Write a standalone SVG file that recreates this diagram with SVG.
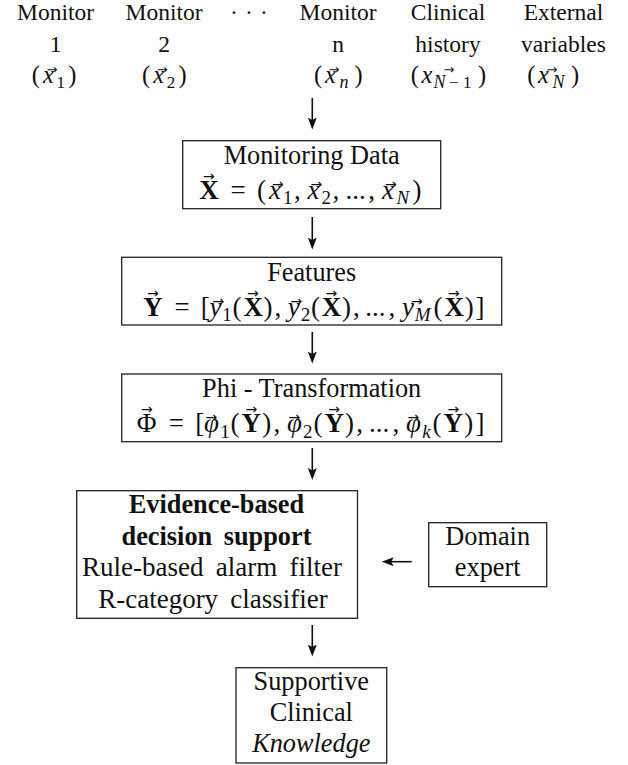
<svg xmlns="http://www.w3.org/2000/svg" width="628" height="765" viewBox="0 0 628 765">
<style>
text{font-family:"Liberation Serif","Times New Roman",serif;fill:#111}
.h{font-size:23.5px;text-anchor:middle}
.hm{font-size:24.5px}
.hs{font-size:17px}
.hl{font-size:18px;font-style:italic}
.b{font-size:26.3px;text-anchor:middle}
.r{font-size:27px;text-anchor:middle;word-spacing:5.5px}
.ws{word-spacing:5px}
.m{font-size:27px}
.s{font-size:19px}
.i{font-style:italic}
.bf{font-weight:bold}
.v{font-family:"DejaVu Sans",sans-serif;font-size:14px;font-style:normal;font-weight:normal}
.hv{font-family:"DejaVu Sans",sans-serif;font-size:13px}
.box{fill:#fff;stroke:#222;stroke-width:1.3}
.con{stroke:#111;stroke-width:1.6;fill:none}
</style>
<defs>
<marker id="ah" viewBox="0 0 12 9" refX="6" refY="4.5" markerWidth="12" markerHeight="9" orient="auto" markerUnits="userSpaceOnUse">
<path d="M0,0 L12,4.5 L0,9 L2.5,4.5 z" fill="#111"/>
</marker>
</defs>

<g id="header">
<text class="h" x="55.5" y="19.5">Monitor</text>
<text class="h" x="55.5" y="51.5">1</text>
<text class="hm" y="83"><tspan x="31.7">(</tspan><tspan x="43" class="i">x</tspan><tspan x="56.5" y="87.5" class="hs">1</tspan><tspan x="68.3" y="83">)</tspan><tspan class="hv" x="46.55" y="73.7">→</tspan></text>

<text class="h" x="164" y="19.5">Monitor</text>
<text class="h" x="164" y="51.5">2</text>
<text class="hm" y="83"><tspan x="142">(</tspan><tspan x="153.3" class="i">x</tspan><tspan x="166.8" y="87.5" class="hs">2</tspan><tspan x="178.6" y="83">)</tspan><tspan class="hv" x="156.85" y="73.7">→</tspan></text>

<text class="h" y="19.5"><tspan x="234">·</tspan><tspan x="249">·</tspan><tspan x="264">·</tspan></text>

<text class="h" x="338" y="19.5">Monitor</text>
<text class="h" x="338" y="51.5">n</text>
<text class="hm" y="83"><tspan x="314">(</tspan><tspan x="325" class="i">x</tspan><tspan x="339.5" y="87.5" class="hl">n</tspan><tspan x="354.5" y="83">)</tspan><tspan class="hv" x="328.55" y="73.7">→</tspan></text>

<text class="h" x="448" y="19.5">Clinical</text>
<text class="h" x="448" y="51.5">history</text>
<text class="hm" y="83"><tspan x="410.7">(</tspan><tspan x="421.5" class="i">x</tspan><tspan x="433.5" y="87.5" class="hl">N</tspan><tspan x="449" class="hs">−</tspan><tspan x="463" class="hs">1</tspan><tspan x="478" y="83">)</tspan><tspan class="hv" x="443.55" y="73.7">→</tspan></text>

<text class="h" x="563.5" y="19.5">External</text>
<text class="h" x="563.5" y="51.5">variables</text>
<text class="hm" y="83"><tspan x="527.3">(</tspan><tspan x="538" class="i">x</tspan><tspan x="552.5" y="87.5" class="hl">N</tspan><tspan x="571" y="83">)</tspan><tspan class="hv" x="546.55" y="73.7">→</tspan></text>
</g>

<g id="monitoring-data">
<rect class="box" x="182.7" y="140.7" width="258" height="68"/>
<text class="b" x="311.7" y="163.5">Monitoring Data</text>
<text class="m" y="198.5"><tspan x="199.3" class="bf">X</tspan><tspan x="230.6">=</tspan><tspan x="256.9">(</tspan><tspan x="269" class="i">x</tspan><tspan x="283" y="204" class="s">1</tspan><tspan x="294" y="198.5">,</tspan><tspan x="307.5" class="i">x</tspan><tspan x="321.5" y="204" class="s">2</tspan><tspan x="332.6" y="198.5">,</tspan><tspan x="345.5">...</tspan><tspan x="368.3">,</tspan><tspan x="382" class="i">x</tspan><tspan x="396.5" y="204" class="s i">N</tspan><tspan x="412.4" y="198.5">)</tspan><tspan class="v" x="203.1" y="180.5">→</tspan><tspan class="v" x="272.1" y="188.5">→</tspan><tspan class="v" x="310.6" y="188.5">→</tspan><tspan class="v" x="385.1" y="188.5">→</tspan></text>
</g>

<g id="features">
<rect class="box" x="121.7" y="257.3" width="380" height="67.7"/>
<text class="b" x="311.7" y="280.5">Features</text>
<text class="m" y="315.5"><tspan x="143.3" class="bf">Y</tspan><tspan x="174.6">=</tspan><tspan x="200.8">[</tspan><tspan x="209.5" class="i">y</tspan><tspan x="222.3" y="321" class="s">1</tspan><tspan x="232.5" y="315.5">(</tspan><tspan x="243.4" class="bf">X</tspan><tspan x="263.6">)</tspan><tspan x="274.5">,</tspan><tspan x="287.8" class="i">y</tspan><tspan x="300.7" y="321" class="s">2</tspan><tspan x="310.9" y="315.5">(</tspan><tspan x="321.8" class="bf">X</tspan><tspan x="342">)</tspan><tspan x="352.9">,</tspan><tspan x="365.3">...</tspan><tspan x="388.6">,</tspan><tspan x="402" class="i">y</tspan><tspan x="414.8" y="321" class="s i">M</tspan><tspan x="433.5" y="315.5">(</tspan><tspan x="444.4" class="bf">X</tspan><tspan x="464.7">)</tspan><tspan x="475.6">]</tspan><tspan class="v" x="147.1" y="297.5">→</tspan><tspan class="v" x="212.6" y="305.5">→</tspan><tspan class="v" x="247.1" y="297.5">→</tspan><tspan class="v" x="290.6" y="305.5">→</tspan><tspan class="v" x="325.6" y="297.5">→</tspan><tspan class="v" x="411.1" y="305.5">→</tspan><tspan class="v" x="448.1" y="297.5">→</tspan></text>
</g>

<g id="phi-transformation">
<rect class="box" x="121.7" y="374" width="380" height="67.7"/>
<text class="b" x="311.7" y="397">Phi - Transformation</text>
<text class="m" y="432"><tspan x="136.7">Φ</tspan><tspan x="168.7">=</tspan><tspan x="195.3">[</tspan><tspan x="204" class="i">φ</tspan><tspan x="220.2" y="437.5" class="s">1</tspan><tspan x="230.5" y="432">(</tspan><tspan x="241.6" class="bf">Y</tspan><tspan x="262.3">)</tspan><tspan x="273.4">,</tspan><tspan x="287" class="i">φ</tspan><tspan x="303" y="437.5" class="s">2</tspan><tspan x="313.4" y="432">(</tspan><tspan x="324.5" class="bf">Y</tspan><tspan x="345.1">)</tspan><tspan x="356.2">,</tspan><tspan x="368.9">...</tspan><tspan x="392.6">,</tspan><tspan x="406" class="i">φ</tspan><tspan x="422.3" y="437.5" class="s i">k</tspan><tspan x="432.6" y="432">(</tspan><tspan x="443.6" class="bf">Y</tspan><tspan x="464.3">)</tspan><tspan x="475.4">]</tspan><tspan class="v" x="141.1" y="414">→</tspan><tspan class="v" x="205.6" y="422">→</tspan><tspan class="v" x="245.4" y="414">→</tspan><tspan class="v" x="288.6" y="422">→</tspan><tspan class="v" x="328.3" y="414">→</tspan><tspan class="v" x="407.6" y="422">→</tspan><tspan class="v" x="447.4" y="414">→</tspan></text>
</g>

<g id="decision-support">
<rect class="box" x="76.7" y="490.7" width="280.8" height="127.6"/>
<text class="b bf" x="216.5" y="513">Evidence-based</text>
<text class="b bf ws" x="216.5" y="544.7">decision support</text>
<text class="r" x="212" y="576.4">Rule-based alarm filter</text>
<text class="r" x="213" y="608">R-category classifier</text>
</g>

<g id="domain-expert">
<rect class="box" x="428.7" y="522.7" width="118" height="64"/>
<text class="b" x="487.7" y="545">Domain</text>
<text class="b" x="487.7" y="576">expert</text>
</g>

<g id="clinical-knowledge">
<rect class="box" x="236" y="667.7" width="150.7" height="95.3"/>
<text class="b" x="311.3" y="690">Supportive</text>
<text class="b" x="311.3" y="721">Clinical</text>
<text class="b i" x="311.3" y="752">Knowledge</text>
</g>

<g id="connectors">
<line class="con" x1="312.3" y1="98" x2="312.3" y2="123.5" marker-end="url(#ah)"/>
<line class="con" x1="312.3" y1="217" x2="312.3" y2="243.5" marker-end="url(#ah)"/>
<line class="con" x1="312.3" y1="332" x2="312.3" y2="357.5" marker-end="url(#ah)"/>
<line class="con" x1="312.3" y1="448" x2="312.3" y2="474" marker-end="url(#ah)"/>
<line class="con" x1="312.3" y1="625" x2="312.3" y2="650.5" marker-end="url(#ah)"/>
<line class="con" x1="411.7" y1="561.7" x2="387.7" y2="561.7" marker-end="url(#ah)"/>
</g>
</svg>
